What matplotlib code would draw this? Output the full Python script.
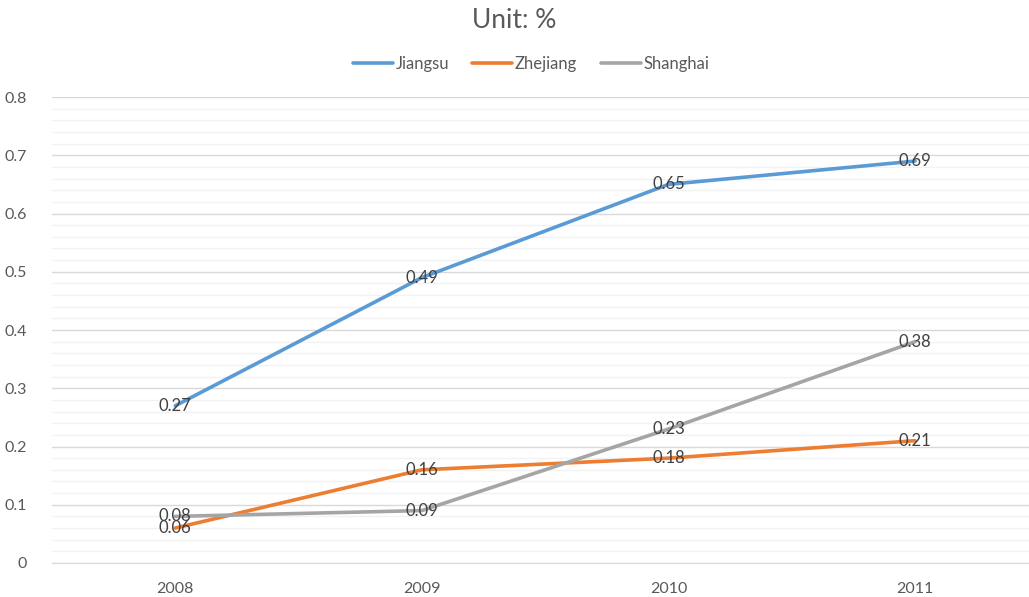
import numpy as np
import matplotlib
matplotlib.use('Agg')
import matplotlib.pyplot as plt
from matplotlib.ticker import MultipleLocator

plt.rcParams['font.family'] = ['Lato', 'DejaVu Sans']

# Data
years = ['2008', '2009', '2010', '2011']
jiangsu = [0.27, 0.49, 0.65, 0.69]
zhejiang = [0.06, 0.16, 0.18, 0.21]
shanghai = [0.08, 0.09, 0.23, 0.38]

series = [('Jiangsu', jiangsu, '#5B9BD5'),
          ('Zhejiang', zhejiang, '#ED7D31'),
          ('Shanghai', shanghai, '#A5A5A5')]

fig = plt.figure(figsize=(10.29, 5.97), dpi=100)
ax = fig.add_axes([52/1029, 34/597, 1 - 52/1029, 466/597])

x = np.arange(len(years))
for name, vals, color in series:
    ax.plot(x, vals, color=color, lw=2.6, label=name, solid_capstyle='round', zorder=3)
    for xi, v in zip(x, vals):
        ax.text(xi, v, f'{v:.2f}', ha='center', va='center', fontsize=12,
                color='#404040', zorder=4)

ax.set_xlim(-0.5, 3.462)
ax.set_ylim(0, 0.8)
ax.set_xticks(x)
ax.set_xticklabels(years)
ax.yaxis.set_major_locator(MultipleLocator(0.1))
ax.yaxis.set_minor_locator(MultipleLocator(0.02))
ax.set_yticklabels(['0' if t == 0 else f'{t:.1f}' for t in ax.get_yticks()])
ax.grid(axis='y', which='major', color='#D9D9D9', lw=1)
ax.grid(axis='y', which='minor', color='#F2F2F2', lw=1)
ax.set_axisbelow(True)
for s in ['top', 'right', 'left']:
    ax.spines[s].set_visible(False)
ax.spines['bottom'].set_color('#D9D9D9')
ax.tick_params(axis='both', which='both', length=0, colors='#595959', labelsize=11.5)
ax.tick_params(axis='x', pad=14)
ax.tick_params(axis='y', pad=18)

fig.text(0.5, 0.965, 'Unit: %', ha='center', va='center', fontsize=19, color='#595959')
fig.legend(loc='center', bbox_to_anchor=(0.516, 0.893), ncol=3, frameon=False,
           fontsize=12, labelcolor='#595959', handlelength=2.4, handletextpad=0.15,
           columnspacing=1.4)

fig.savefig('out.png', dpi=100)
